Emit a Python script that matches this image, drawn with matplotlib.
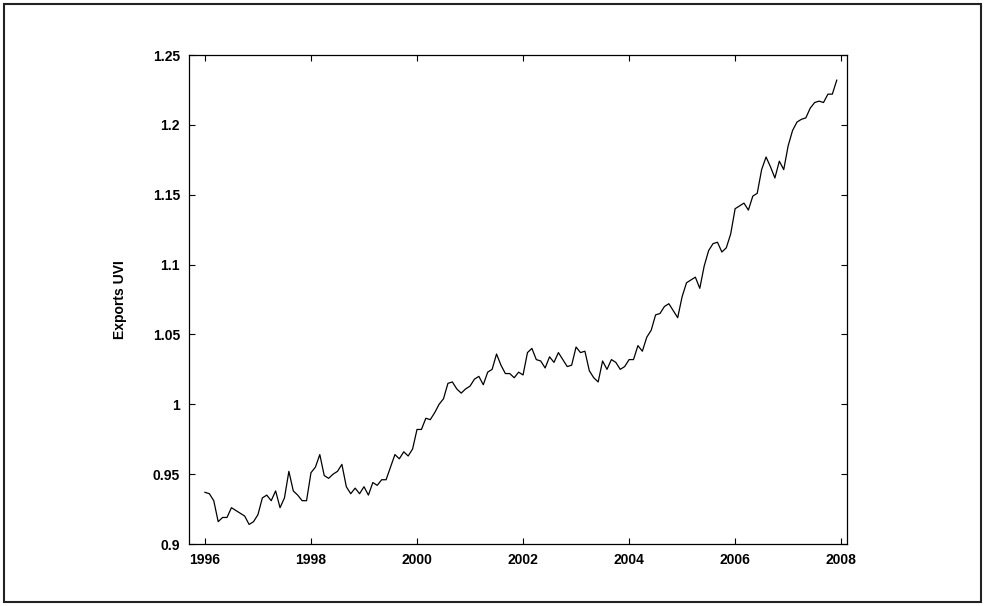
import matplotlib.pyplot as plt
import numpy as np
from matplotlib.patches import Rectangle

# monthly exports unit value index, Jan 1996 - Dec 2007
uvi_1996 = [0.937, 0.936, 0.931, 0.916, 0.919, 0.919, 0.926, 0.924, 0.922, 0.920, 0.914, 0.916]
uvi_1997 = [0.921, 0.933, 0.935, 0.931, 0.938, 0.926, 0.933, 0.952, 0.938, 0.935, 0.931, 0.931]
uvi_1998 = [0.951, 0.955, 0.964, 0.949, 0.947, 0.950, 0.952, 0.957, 0.941, 0.936, 0.940, 0.936]
uvi_1999 = [0.941, 0.935, 0.944, 0.942, 0.946, 0.946, 0.955, 0.964, 0.961, 0.966, 0.963, 0.968]
uvi_2000 = [0.982, 0.982, 0.990, 0.989, 0.994, 1.000, 1.004, 1.015, 1.016, 1.011, 1.008, 1.011]
uvi_2001 = [1.013, 1.018, 1.020, 1.014, 1.023, 1.025, 1.036, 1.028, 1.022, 1.022, 1.019, 1.023]
uvi_2002 = [1.021, 1.037, 1.040, 1.032, 1.031, 1.026, 1.034, 1.030, 1.037, 1.032, 1.027, 1.028]
uvi_2003 = [1.041, 1.037, 1.038, 1.024, 1.019, 1.016, 1.031, 1.025, 1.032, 1.030, 1.025, 1.027]
uvi_2004 = [1.032, 1.032, 1.042, 1.038, 1.048, 1.053, 1.064, 1.065, 1.070, 1.072, 1.067, 1.062]
uvi_2005 = [1.077, 1.087, 1.089, 1.091, 1.083, 1.099, 1.110, 1.115, 1.116, 1.109, 1.112, 1.122]
uvi_2006 = [1.140, 1.142, 1.144, 1.139, 1.149, 1.151, 1.168, 1.177, 1.170, 1.162, 1.174, 1.168]
uvi_2007 = [1.185, 1.196, 1.202, 1.204, 1.205, 1.212, 1.216, 1.217, 1.216, 1.222, 1.222, 1.232]

uvi = (uvi_1996 + uvi_1997 + uvi_1998 + uvi_1999 + uvi_2000 + uvi_2001
       + uvi_2002 + uvi_2003 + uvi_2004 + uvi_2005 + uvi_2006 + uvi_2007)
t = 1996 + np.arange(len(uvi)) / 12.0

x_ticks = [1996, 1998, 2000, 2002, 2004, 2006, 2008]
y_ticks = [0.9, 0.95, 1.0, 1.05, 1.1, 1.15, 1.2, 1.25]
y_tick_labels = ['0.9', '0.95', '1', '1.05', '1.1', '1.15', '1.2', '1.25']

plt.rcParams['font.family'] = ['Liberation Sans', 'DejaVu Sans']
plt.rcParams['font.size'] = 10
plt.rcParams['font.weight'] = 'bold'

fig = plt.figure(figsize=(9.85, 6.06), dpi=100)
ax = fig.add_axes([0.1919, 0.1023, 0.668, 0.8069])

ax.plot(t, uvi, color='black', lw=0.9)

ax.set_xlim(1995.7, 2008.11)
ax.set_ylim(0.9, 1.25)
ax.set_xticks(x_ticks)
ax.set_yticks(y_ticks)
ax.set_yticklabels(y_tick_labels)
ax.tick_params(direction='in', length=4.5, width=0.8, pad=6.5,
               top=True, right=True, labelsize=10)
for s in ax.spines.values():
    s.set_linewidth(0.9)
ax.set_ylabel('Exports UVI', fontsize=10, fontweight='bold')
ax.yaxis.set_label_coords(-0.0945, 0.5)

# border around the whole picture
fig.patches.append(Rectangle((4 / 985, 4 / 606), 977 / 985, 598 / 606,
                             transform=fig.transFigure, fill=False,
                             edgecolor='#222222', lw=1.5))

fig.savefig('out.png', dpi=100)
